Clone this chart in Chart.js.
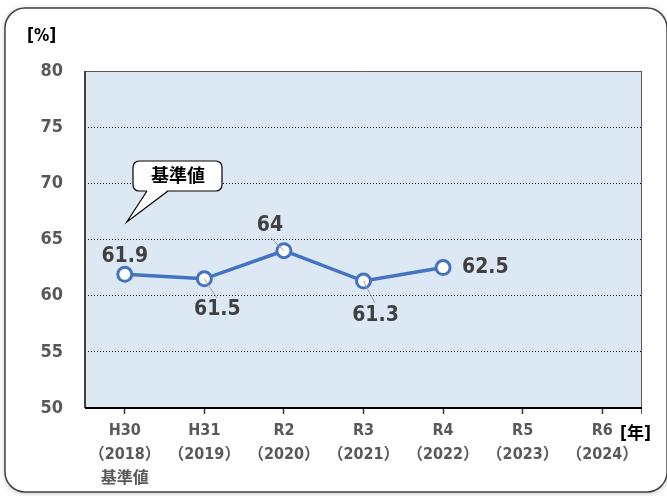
<!DOCTYPE html>
<html>
<head>
<meta charset="utf-8">
<script src="https://cdn.jsdelivr.net/npm/chart.js@4"></script>
<style>
  body { margin: 0; background: #fff; }
  canvas { display: block; }
</style>
</head>
<body>
<canvas id="grafico" width="667" height="496"></canvas>
<script>
// dados do gráfico
const categorias = [
  ['H30', '（2018）', '基準値'],
  ['H31', '（2019）'],
  ['R2', '（2020）'],
  ['R3', '（2021）'],
  ['R4', '（2022）'],
  ['R5', '（2023）'],
  ['R6', '（2024）']
];
const valores = [61.9, 61.5, 64, 61.3, 62.5, null, null];
const ticksY = [50, 55, 60, 65, 70, 75, 80];

// posição dos rótulos em relação ao ponto (dx, dy, linha guia?)
const posRotulos = [
  { dx: 0, dy: -18, guia: false },
  { dx: 13, dy: 31, guia: true },
  { dx: -14, dy: -25, guia: true },
  { dx: 12, dy: 34, guia: true },
  { dx: 19, dy: 0, guia: false, left: true }
];

const fonte = "'DejaVu Sans Condensed', 'Noto Sans CJK JP', sans-serif";
const azul = '#4472c4';

function rrect(ctx, x, y, w, h, r) {
  ctx.beginPath();
  ctx.moveTo(x + r, y);
  ctx.arcTo(x + w, y, x + w, y + h, r);
  ctx.arcTo(x + w, y + h, x, y + h, r);
  ctx.arcTo(x, y + h, x, y, r);
  ctx.arcTo(x, y, x + w, y, r);
  ctx.closePath();
}

const enfeites = {
  id: 'enfeites',
  beforeDraw(chart) {
    const { ctx, chartArea: a } = chart;
    ctx.save();
    ctx.fillStyle = '#fff';
    ctx.fillRect(0, 0, chart.width, chart.height);
    // moldura arredondada com sombra
    ctx.shadowColor = 'rgba(0,0,0,0.25)';
    ctx.shadowBlur = 6;
    ctx.shadowOffsetY = 1;
    rrect(ctx, 5, 8, 662, 484, 20);
    ctx.fillStyle = '#fff';
    ctx.fill();
    ctx.shadowColor = 'transparent';
    ctx.lineWidth = 1.5;
    ctx.strokeStyle = '#404040';
    ctx.stroke();
    // fundo da área do gráfico
    ctx.fillStyle = '#dde8f5';
    ctx.fillRect(a.left, a.top, a.right - a.left, a.bottom - a.top);
    ctx.restore();
  },
  afterDraw(chart) {
    const { ctx, chartArea: a } = chart;
    const meta = chart.getDatasetMeta(0);
    ctx.save();
    ctx.setLineDash([]);
    // bordas
    ctx.lineWidth = 1;
    ctx.strokeStyle = '#595959';
    ctx.beginPath();
    ctx.moveTo(a.left, a.top + 0.5); ctx.lineTo(a.right, a.top + 0.5);
    ctx.moveTo(a.right - 0.5, a.top); ctx.lineTo(a.right - 0.5, a.bottom + 6);
    ctx.stroke();
    ctx.lineWidth = 2;
    ctx.strokeStyle = '#404040';
    ctx.beginPath();
    ctx.moveTo(a.left, a.top); ctx.lineTo(a.left, a.bottom);
    ctx.stroke();
    ctx.strokeStyle = '#000';
    ctx.beginPath();
    ctx.moveTo(a.left, a.bottom); ctx.lineTo(a.right, a.bottom);
    ctx.stroke();

    // rótulos dos dados
    ctx.font = 'bold 21px ' + fonte;
    ctx.fillStyle = '#404040';
    ctx.textBaseline = 'middle';
    valores.forEach((v, i) => {
      if (v === null) return;
      const p = meta.data[i];
      const o = posRotulos[i];
      const tx = p.x + o.dx, ty = p.y + o.dy;
      if (o.guia) {
        ctx.strokeStyle = '#a0a0a0';
        ctx.lineWidth = 1;
        ctx.beginPath();
        ctx.moveTo(p.x, p.y);
        ctx.lineTo(tx - o.dx * 0.05, ty - Math.sign(o.dy) * 12);
        ctx.stroke();
      }
      ctx.textAlign = o.left ? 'left' : 'center';
      ctx.fillText(String(v), tx, ty);
    });

    // balão "基準値"
    const p0 = meta.data[0];
    rrect(ctx, 133, 161, 89, 30, 6);
    ctx.fillStyle = '#fff';
    ctx.fill();
    ctx.lineWidth = 1.2;
    ctx.strokeStyle = '#000';
    ctx.stroke();
    ctx.beginPath();
    ctx.moveTo(147, 190);
    ctx.lineTo(p0.x + 2, 222);
    ctx.lineTo(168, 190);
    ctx.closePath();
    ctx.fill();
    ctx.beginPath();
    ctx.moveTo(147, 191);
    ctx.lineTo(p0.x + 2, 222);
    ctx.lineTo(168, 191);
    ctx.stroke();
    ctx.fillStyle = '#000';
    ctx.font = 'bold 18px ' + fonte;
    ctx.textAlign = 'center';
    ctx.fillText('基準値', 178, 177);

    // unidades
    ctx.font = 'bold 17px ' + fonte;
    ctx.fillStyle = '#000';
    ctx.textAlign = 'left';
    ctx.fillText('[%]', 27, 37);
    ctx.fillText('[年]', 620, 435);
    ctx.restore();
  }
};

new Chart(document.getElementById('grafico'), {
  type: 'line',
  data: {
    labels: categorias,
    datasets: [{
      data: valores,
      borderColor: azul,
      borderWidth: 3.5,
      pointRadius: 7,
      pointBorderWidth: 3,
      pointBackgroundColor: '#fff',
      pointBorderColor: azul,
      tension: 0
    }]
  },
  options: {
    responsive: false,
    animation: false,
    layout: { padding: { left: 25, right: 25, top: 71, bottom: 0 } },
    plugins: { legend: { display: false }, tooltip: { enabled: false } },
    scales: {
      x: {
        offset: true,
        afterFit: s => { s.height = 88; },
        grid: {
          offset: false,
          drawOnChartArea: false,
          tickLength: 6,
          tickColor: '#333',
          tickWidth: 1.5
        },
        border: { display: false },
        ticks: {
          padding: 5,
          color: '#595959',
          font: { family: fonte, size: 16, weight: 'bold', lineHeight: 1.5 },
          maxRotation: 0,
          autoSkip: false
        }
      },
      y: {
        min: 50,
        max: 80,
        afterFit: s => { s.width = 60; },
        afterBuildTicks: s => { s.ticks = ticksY.map(v => ({ value: v })); },
        grid: {
          drawTicks: false,
          color: c => (c.tick.value === 50 || c.tick.value === 80) ? 'transparent' : '#000',
          lineWidth: 1
        },
        border: { display: false, dash: [1, 2] },
        ticks: {
          padding: 22,
          color: '#595959',
          font: { family: fonte, size: 18, weight: 'bold' }
        }
      }
    }
  },
  plugins: [enfeites]
});
</script>
</body>
</html>
